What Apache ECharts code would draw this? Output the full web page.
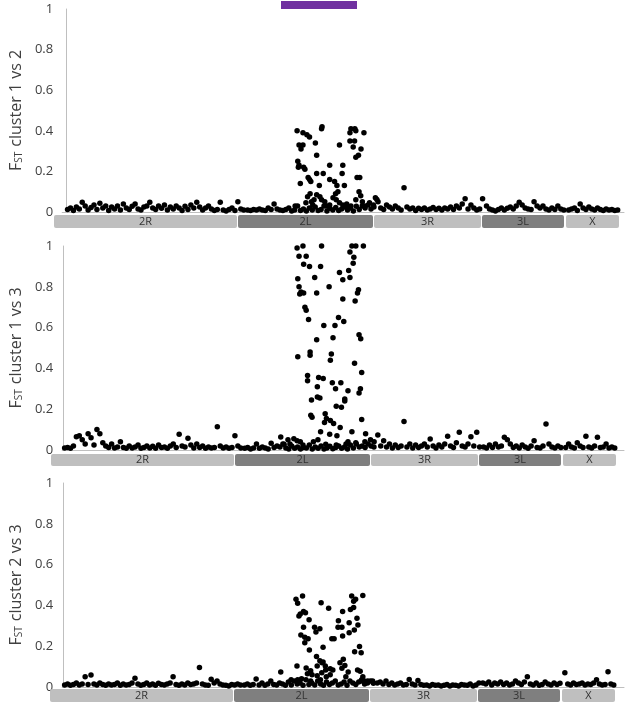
<!DOCTYPE html>
<html><head><meta charset="utf-8">
<script src="https://cdn.jsdelivr.net/npm/echarts@6/dist/echarts.min.js"></script>
<style>html,body{margin:0;padding:0;background:#fff}#c{width:627px;height:711px}</style>
</head><body><div id="c"></div>
<script>
// Chromosome arms (ordered along the genome axis, SNP-window units)
const arms = ['2R','2L','3R','3L','X'];
const armStart = [0,184,320,428,512];
const armEnd = [183,319,427,510,565];
// 2La inversion region
const inversion2La = [227,303];
const yTicks = [0,0.2,0.4,0.6,0.8,1];
const panelNames = ['1 vs 2','1 vs 3','2 vs 3'];

// ---- FST cluster 1 vs 2 ----
const fst12_2R = [.012,.02,.008,.025,.015,.048,.03,.01,.022,.035,.012,.043,.02,.03,.008,.025,.015,.03,.01,.04,.02,.012,.028,.04,.015,.01,.025,.03,.048,.02,.012,.03,.018,.035,.01,.025,.015,.03,.02,.008,.028,.012,.035,.02,.048,.025,.01,.02,.03,.015,.008,.012,.048,.01,.005,.012,.02,.008,.05,.015,.01];
const fst12_2L = [.01,.008,.012,.01,.015,.01,.008,.02,.012,.04,.015,.01,.008,.012,.02,.005,.01,.03,.008,.015,.005,.02,.01,.025,.008,.012,.03,.005,.018,.01,.022,.008,.015,.025,.01,.02,.005,.028,.012,.03,.02,.035,.015,.025,.062];
const fst12_3R = [.02,.012,.035,.025,.015,.03,.02,.01,.12,.025,.015,.02,.008,.018,.012,.02,.01,.015,.022,.012,.018,.01,.02,.015,.025,.012,.03,.02,.04,.065,.015,.035,.02,.01,.015,.065];
const fst12_3L = [.03,.015,.01,.005,.012,.02,.01,.018,.025,.015,.03,.048,.035,.02,.015,.012,.05,.03,.02,.03,.015,.01,.02,.012,.03,.015,.01];
const fst12_X = [.01,.015,.02,.008,.04,.02,.012,.025,.015,.01,.02,.012,.008,.015,.01,.012,.008,.01];
const fst12_inv = [[236,.40],[242,.39],[246,.38],[248.7,.37],[261,.41],[261.5,.42],[238,.33],[242,.33],[240,.31],[254.7,.34],[256,.28],[279.3,.33],[291,.41],[295,.41],[290,.39],[296,.40],[304.3,.39],[290,.35],[294.7,.35],[293.3,.32],[301.3,.31],[298.7,.28],[296,.27],[236.7,.25],[238,.23],[237.3,.22],[242.7,.22],[244,.21],[247.3,.17],[248.7,.16],[250,.15],[239.3,.14],[256,.19],[262.7,.19],[269.3,.23],[282.7,.23],[282,.19],[269.3,.16],[274.3,.15],[276.7,.13],[284.3,.13],[258.7,.13],[297.3,.17],[300,.17],[299.3,.10],[277.7,.10],[275.3,.09],[249.3,.09],[246.7,.075],[256,.085],[259.3,.075],[250.7,.05],[253.3,.06],[261,.06],[264.3,.05],[269.3,.035],[272.7,.07],[276,.06],[279.3,.045],[282.7,.035],[286.7,.04],[291,.03],[296,.06],[301,.08],[302.7,.05],[316,.07],[318.7,.05],[234,.03],[245,.045],[252,.035],[266,.03],[288,.02],[305,.03],[310,.045],[314,.035]];

// ---- FST cluster 1 vs 3 ----
const fst13_2R = [.01,.012,.008,.02,.065,.07,.05,.03,.08,.06,.025,.10,.08,.035,.02,.012,.03,.01,.015,.04,.012,.008,.02,.01,.015,.025,.008,.012,.02,.01,.018,.008,.025,.012,.015,.008,.02,.03,.012,.077,.02,.015,.057,.025,.01,.03,.012,.02,.008,.015,.01,.012,.114,.02,.01,.015,.008,.012,.07,.02,.01];
const fst13_2L = [.008,.012,.005,.01,.03,.008,.015,.01,.005,.033,.012,.02,.015,.03,.01,.005,.02,.008,.015,.005,.012,.01,.025,.005,.015,.008,.02,.005,.01,.018,.006,.012,.02,.008,.015,.005,.025,.01,.03,.015,.02,.012,.03,.02,.015];
const fst13_3R = [.074,.02,.045,.015,.03,.01,.025,.012,.02,.14,.015,.03,.01,.025,.012,.02,.03,.015,.054,.02,.01,.025,.015,.03,.068,.02,.012,.035,.087,.02,.015,.03,.065,.02,.087,.015];
const fst13_3L = [.015,.01,.025,.012,.03,.015,.02,.062,.05,.03,.012,.02,.01,.025,.015,.008,.02,.045,.012,.01,.02,.127,.03,.015,.01,.02,.012];
const fst13_X = [.012,.03,.015,.01,.035,.02,.012,.068,.015,.01,.02,.062,.012,.015,.03,.01,.015,.01];
const fst13_inv = [[239,.99],[245,1.0],[264,1.0],[295,1.0],[299,1.0],[306.7,1.0],[293,.97],[241,.95],[248.3,.95],[297,.945],[296.3,.915],[245.7,.91],[251.7,.90],[263,.90],[291.7,.88],[282.3,.87],[293,.845],[285.7,.835],[239.7,.84],[257,.845],[241,.80],[271.7,.80],[243,.775],[245.7,.77],[241.7,.765],[259,.77],[301.7,.785],[300.7,.77],[285.7,.74],[298.3,.73],[247,.70],[248.3,.685],[250.7,.64],[281.3,.65],[286.7,.63],[266.3,.61],[277.7,.61],[302.3,.565],[304,.545],[259,.54],[275.7,.55],[239.7,.457],[252.3,.48],[252.3,.465],[274,.47],[273,.44],[297.7,.425],[305,.38],[249.7,.365],[249.7,.34],[261,.355],[265.7,.35],[275,.33],[283.7,.33],[259.7,.31],[278.3,.30],[291,.29],[303.7,.30],[302.3,.28],[287.7,.25],[287.7,.24],[259.7,.26],[262.3,.255],[253.7,.245],[279,.215],[284.3,.21],[253,.17],[254.3,.16],[267.7,.178],[269,.155],[267,.135],[273,.145],[276.3,.13],[305,.15],[283,.11],[263,.09],[295,.09],[272.3,.077],[279.7,.07],[309,.08],[222.3,.064],[229.7,.05],[235.7,.055],[239,.045],[242.3,.04],[255.7,.04],[260.3,.05],[291,.04],[299,.035],[308.3,.04],[314,.05],[317.7,.04],[225.7,.028],[231.7,.03],[245,.025],[268.3,.028],[279,.025],[289,.03]];

// ---- FST cluster 2 vs 3 ----
const fst23_2R = [.01,.015,.008,.012,.02,.01,.015,.05,.012,.059,.015,.01,.02,.012,.008,.015,.01,.012,.02,.008,.015,.01,.012,.02,.043,.015,.008,.012,.02,.01,.015,.008,.018,.012,.01,.015,.02,.05,.012,.008,.015,.01,.02,.012,.015,.02,.096,.015,.01,.008,.038,.02,.03,.015,.01,.008,.005,.012,.01,.015,.01];
const fst23_2L = [.01,.015,.008,.012,.039,.01,.02,.008,.015,.03,.012,.01,.02,.015,.008,.025,.01,.03,.015,.02,.008,.035,.012,.02,.01,.03,.015,.008,.025,.012,.02,.03,.01,.015,.025,.008,.03,.02,.012,.025,.035,.015,.02,.03,.018];
const fst23_3R = [.02,.025,.015,.03,.012,.02,.01,.015,.02,.01,.012,.037,.015,.01,.032,.012,.008,.01,.005,.012,.008,.01,.005,.008,.012,.005,.01,.008,.005,.012,.01,.008,.015,.005,.01,.02];
const fst23_3L = [.02,.015,.025,.01,.02,.015,.025,.012,.02,.01,.015,.03,.02,.012,.025,.05,.015,.01,.02,.008,.012,.025,.015,.01,.02,.012,.018];
const fst23_X = [.07,.015,.01,.02,.012,.015,.02,.01,.015,.012,.02,.035,.015,.01,.012,.075,.015,.01];
const fst23_inv = [[238.3,.43],[240,.41],[245,.446],[264,.413],[271.7,.386],[295.3,.446],[297.3,.42],[299.3,.43],[306.7,.448],[294,.38],[297.3,.39],[286,.37],[246,.37],[248,.364],[242.7,.358],[241.3,.348],[251.7,.33],[281.7,.325],[300.7,.337],[301.7,.304],[292.7,.315],[246,.293],[257.3,.293],[262.7,.286],[258.7,.27],[281.3,.293],[285.3,.293],[298,.28],[292.7,.266],[243.3,.255],[247.3,.244],[250.7,.237],[247.3,.217],[275,.237],[277.3,.237],[286,.25],[266,.195],[252,.181],[303.3,.198],[298.3,.173],[305,.168],[259.3,.149],[262.7,.129],[266,.123],[286.7,.136],[283.3,.119],[288.3,.106],[285.3,.092],[260,.103],[239.3,.103],[248.7,.093],[253.3,.08],[273.3,.09],[276,.083],[268.7,.083],[264.7,.07],[301.3,.083],[304,.077],[222.7,.074],[250,.065],[254.7,.06],[260,.055],[269.3,.05],[273.3,.06],[291.7,.074],[289.3,.05],[233.3,.035],[240,.035],[244,.04],[253.3,.03],[263.3,.035],[305,.03],[311.7,.03],[316.7,.03],[265,.119],[268.3,.103],[306.7,.05],[308.3,.03]];

// ---------- build ----------
function buildPoints(armArrays, inv) {
  const pts = [];
  armArrays.forEach((arr, k) => {
    const step = (armEnd[k] - armStart[k]) / arr.length;
    arr.forEach((v, i) => pts.push([armStart[k] + (i + 0.5) * step, v]));
  });
  inv.forEach(p => pts.push(p));
  return pts;
}
const panelData = [
  buildPoints([fst12_2R, fst12_2L, fst12_3R, fst12_3L, fst12_X], fst12_inv),
  buildPoints([fst13_2R, fst13_2L, fst13_3R, fst13_3L, fst13_X], fst13_inv),
  buildPoints([fst23_2R, fst23_2L, fst23_3R, fst23_3L, fst23_X], fst23_inv)
];

// layout (pixels)
const panelTop = [9, 246, 483], panelH = [203, 204, 204], panelLeft = [50, 50, 49];
const xMin = [-4, -1, -1];
const stripTop = [215, 454, 689], stripH = [13, 12, 13];
const rightEdge = 624;
const armFill = ['#bfbfbf', '#7f7f7f', '#bfbfbf', '#7f7f7f', '#bfbfbf'];
const axisGray = '#bfbfbf', textGray = '#404040';
const FONT = '"Open Sans", sans-serif';

const grid = [], xAxis = [], yAxis = [], series = [];
for (let p = 0; p < 3; p++) {
  const w = rightEdge - panelLeft[p];
  grid.push({ left: panelLeft[p], top: panelTop[p], width: w, height: panelH[p] });
  xAxis.push({ type: 'value', gridIndex: p, min: xMin[p], max: xMin[p] + w,
    axisLine: { show: true, onZero: true, lineStyle: { color: axisGray, width: 1 } },
    axisTick: { show: false }, axisLabel: { show: false }, splitLine: { show: false } });
  yAxis.push({ type: 'value', gridIndex: p, min: yTicks[0], max: yTicks[yTicks.length - 1], interval: yTicks[1] - yTicks[0],
    axisLine: { show: true, lineStyle: { color: axisGray, width: 1 } },
    axisTick: { show: false }, splitLine: { show: false },
    axisLabel: { color: textGray, fontSize: 13, fontFamily: FONT, margin: 9 },
    name: '{f|F}{s|ST}{f| cluster ' + panelNames[p] + '}',
    nameLocation: 'middle', nameGap: 31, nameRotate: 90,
    nameTextStyle: { color: textGray, fontFamily: FONT,
      rich: { f: { fontSize: 16, fontFamily: FONT, color: textGray, verticalAlign: 'bottom', lineHeight: 20 },
              s: { fontSize: 10, fontFamily: FONT, color: textGray, verticalAlign: 'bottom', lineHeight: 14, padding: [0, 1, 0, 0] } } } });
  series.push({ type: 'scatter', xAxisIndex: p, yAxisIndex: p, data: panelData[p],
    symbol: 'circle', symbolSize: 5.5, itemStyle: { color: '#000', opacity: 1 }, silent: true, animation: false });
}
// chromosome arm strips
for (let p = 0; p < 3; p++) {
  const gi = 3 + p;
  const w = rightEdge - panelLeft[p];
  grid.push({ left: panelLeft[p], top: stripTop[p], width: w, height: stripH[p] });
  xAxis.push({ type: 'value', gridIndex: gi, min: xMin[p], max: xMin[p] + w, show: false });
  yAxis.push({ type: 'value', gridIndex: gi, min: 0, max: 1, show: false });
  series.push({ type: 'custom', xAxisIndex: gi, yAxisIndex: gi, silent: true, animation: false,
    data: arms.map((a, i) => [armStart[i], armEnd[i], i]),
    renderItem: function (params, api) {
      const i = api.value(2);
      const a = api.coord([api.value(0), 1]);
      const b = api.coord([api.value(1), 0]);
      return { type: 'rect', shape: { x: a[0], y: a[1], width: b[0] - a[0], height: b[1] - a[1], r: 2 },
        style: { fill: armFill[i] },
        textContent: { style: { text: arms[i], fill: '#333', fontSize: 11, fontFamily: FONT } },
        textConfig: { position: 'inside' } };
    } });
}
// inversion bar above panel 1
grid.push({ left: panelLeft[0], top: 1, width: rightEdge - panelLeft[0], height: 8 });
xAxis.push({ type: 'value', gridIndex: 6, min: xMin[0], max: xMin[0] + rightEdge - panelLeft[0], show: false });
yAxis.push({ type: 'value', gridIndex: 6, min: 0, max: 1, show: false });
series.push({ type: 'custom', xAxisIndex: 6, yAxisIndex: 6, silent: true, animation: false,
  data: [[inversion2La[0], inversion2La[1]]],
  renderItem: function (params, api) {
    const a = api.coord([api.value(0), 1]);
    const b = api.coord([api.value(1), 0]);
    return { type: 'rect', shape: { x: a[0], y: a[1], width: b[0] - a[0], height: b[1] - a[1] }, style: { fill: '#7030a0' } };
  } });

const chart = echarts.init(document.getElementById('c'), null, { renderer: 'canvas' });
chart.setOption({ animation: false, backgroundColor: '#fff', grid, xAxis, yAxis, series });
</script></body></html>
